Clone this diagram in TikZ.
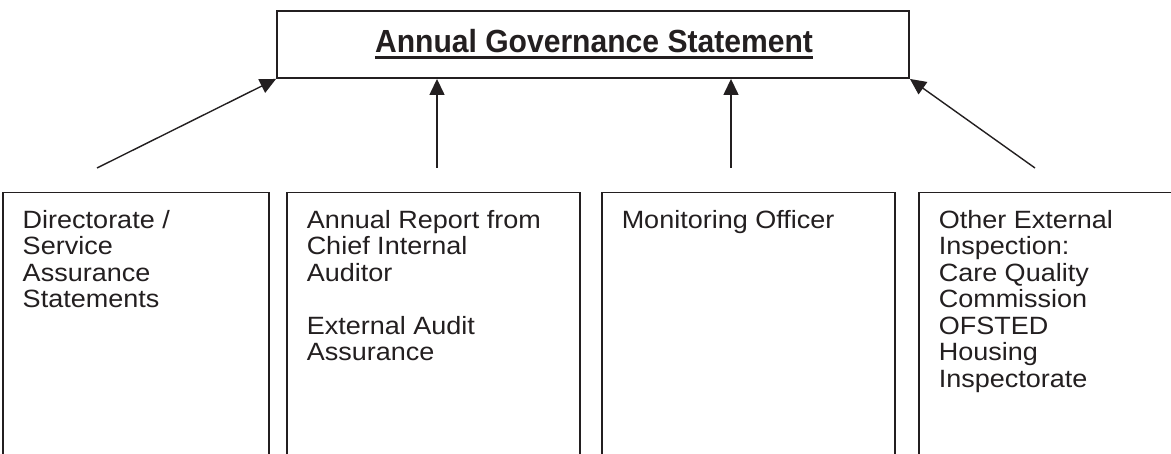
\documentclass[tikz,border=0pt]{standalone}
\usepackage{fontspec}
\setmainfont{Liberation Sans}
\usetikzlibrary{arrows.meta}
\definecolor{ink}{HTML}{231F20}
\tikzset{
  topbox/.style={draw=ink, line width=1.9pt, minimum width=632pt, minimum height=67pt, inner sep=0pt},
  lowbox/.style={draw=ink, line width=1.5pt, anchor=north west, inner xsep=20pt, inner ysep=17pt, align=left},
  link/.style={draw=ink, line width=1.4pt, -{Triangle[length=16pt,width=15pt]}},
  boxtext/.style={font=\fontsize{25}{26.5}\selectfont\addfontfeature{FakeStretch=1.08}},
}
\newcommand{\lowtext}[2]{\parbox[t][320pt][t]{#1}{\raggedright\strut #2}}
\begin{document}
\begin{tikzpicture}[x=1pt,y=-1pt]
\useasboundingbox (0,0) rectangle (1171,454);
\clip (0,0) rectangle (1171,454);
\fill[white] (0,0) rectangle (1171,454);
% top box
\node[topbox] (top) at (593,44.5) {};
\node[anchor=base, inner sep=0pt, text=ink, font=\fontsize{32}{36}\selectfont\bfseries\addfontfeature{FakeStretch=0.94}] (title) at (594,53) {Annual Governance Statement};
\draw[ink, line width=2.8pt] ([yshift=-4.5pt]title.base west) -- ([yshift=-4.5pt]title.base east);
% lower boxes
\node[lowbox, boxtext, text=ink] (b1) at (2,192) {\lowtext{226pt}{Directorate /\\Service\\Assurance\\Statements}};
\node[lowbox, boxtext, text=ink] (b2) at (286,192) {\lowtext{253pt}{Annual Report from\\Chief Internal\\Auditor\\[26.5pt]External Audit\\Assurance}};
\node[lowbox, boxtext, text=ink] (b3) at (601,192) {\lowtext{253pt}{Monitoring Officer}};
\node[lowbox, boxtext, text=ink] (b4) at (918,192) {\lowtext{253pt}{Other External\\Inspection:\\Care Quality\\Commission\\OFSTED\\Housing\\Inspectorate}};
% arrow tails
\coordinate (t1) at (97,168);
\coordinate (t2) at (437,168);
\coordinate (t3) at (731,168);
\coordinate (t4) at (1035,168);
\draw[link] (t1) -- (top.south west);
\draw[link] (t2) -- (top.south -| t2);
\draw[link] (t3) -- (top.south -| t3);
\draw[link] (t4) -- (top.south east);
\end{tikzpicture}
\end{document}
